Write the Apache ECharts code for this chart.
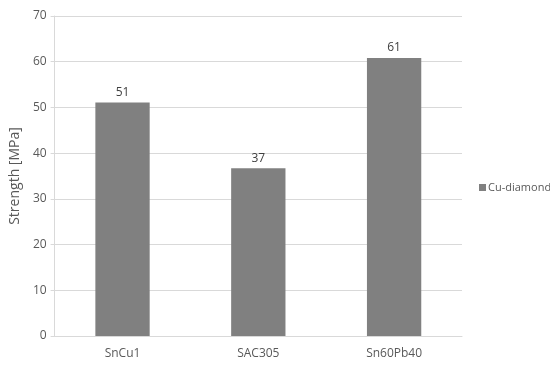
<!DOCTYPE html>
<html><head><meta charset="utf-8">
<script src="https://cdn.jsdelivr.net/npm/echarts@6/dist/echarts.min.js"></script>
<style>html,body{margin:0;padding:0;background:#fff}#c{width:550px;height:368px}</style>
</head><body><div id="c"></div>
<script>
const categories = ['SnCu1', 'SAC305', 'Sn60Pb40'];
const seriesName = 'Cu-diamond';
const values = [51.1, 36.7, 60.8];
const labels = ['51', '37', '61'];
const yTicks = [0, 10, 20, 30, 40, 50, 60, 70];

const chart = echarts.init(document.getElementById('c'), null, {renderer: 'canvas'});
const font = '"Open Sans", "Noto Sans", sans-serif';
chart.setOption({
  animation: false,
  textStyle: {fontFamily: font},
  grid: {left: 49, right: 88, top: 16, bottom: 32},
  legend: {
    data: [seriesName], orient: 'vertical', left: 474, top: 177,
    icon: 'rect', itemWidth: 7, itemHeight: 7, itemGap: 0,
    textStyle: {color: '#595959', fontSize: 11, fontFamily: font, padding: [0, 0, 0, -3]}
  },
  xAxis: {
    type: 'category', data: categories,
    axisLine: {lineStyle: {color: '#d9d9d9'}},
    axisTick: {show: false},
    axisLabel: {color: '#595959', fontSize: 12, margin: 12, fontFamily: font}
  },
  yAxis: {
    type: 'value', min: yTicks[0], max: yTicks[yTicks.length - 1], interval: 10,
    name: 'Strength [MPa]', nameLocation: 'middle', nameGap: 27, nameRotate: 90,
    nameTextStyle: {color: '#595959', fontSize: 14, fontFamily: font},
    axisLine: {show: true, lineStyle: {color: '#d9d9d9'}},
    axisTick: {show: true, length: 4, lineStyle: {color: '#d9d9d9'}},
    axisLabel: {color: '#595959', fontSize: 12, margin: 8, fontFamily: font},
    splitLine: {lineStyle: {color: '#d9d9d9'}}
  },
  series: [{
    name: seriesName, type: 'bar', data: values, barWidth: '40%',
    itemStyle: {color: '#808080'},
    label: {
      show: true, position: 'top', distance: 4, color: '#404040', fontSize: 12, fontFamily: font,
      formatter: p => labels[p.dataIndex]
    }
  }]
});
</script></body></html>
